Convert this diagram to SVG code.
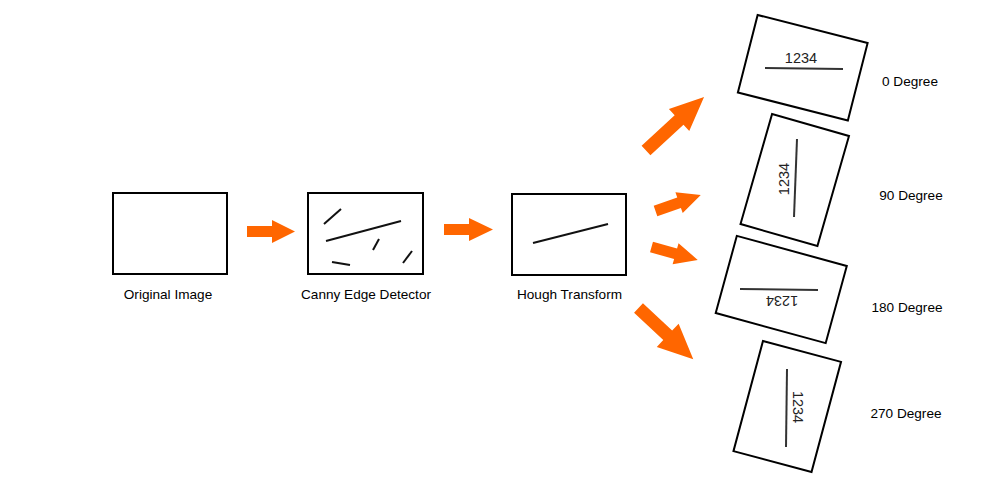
<svg xmlns="http://www.w3.org/2000/svg" width="995" height="498" viewBox="0 0 995 498">
<style>
.box{fill:#fff;stroke:#000;stroke-width:2}
.ln{stroke:#111;stroke-width:2;stroke-linecap:butt;fill:none}
.ln2{stroke:#333;stroke-width:2;fill:none}
.lbl{font-family:"Liberation Sans",Arial,sans-serif;font-size:13.6px;fill:#000;text-anchor:middle}
.num{font-family:"Liberation Sans",Arial,sans-serif;font-size:14.5px;fill:#222;text-anchor:middle}
.arr{fill:#FF6600}
</style>
<defs>
<filter id="soft" x="-10%" y="-10%" width="120%" height="120%"><feGaussianBlur stdDeviation="0.5"/></filter>
</defs>
<rect width="995" height="498" fill="#fff"/>
<g id="original">
<rect class="box" x="113" y="193" width="114" height="81"/>
<text class="lbl" x="168" y="299">Original Image</text>
</g>
<g id="canny">
<rect class="box" x="308" y="193" width="115" height="81"/>
<line class="ln" x1="324" y1="224" x2="341" y2="209"/>
<line class="ln" x1="326" y1="241" x2="401" y2="221"/>
<line class="ln" x1="373" y1="250" x2="379" y2="239"/>
<line class="ln" x1="332" y1="262" x2="350" y2="265"/>
<line class="ln" x1="403" y1="263" x2="412" y2="251"/>
<text class="lbl" x="366" y="299">Canny Edge Detector</text>
</g>
<g id="hough">
<rect class="box" x="512" y="194" width="114" height="81"/>
<line class="ln" x1="533" y1="243" x2="608" y2="224"/>
<text class="lbl" x="569.5" y="299">Hough Transform</text>
</g>
<g id="deg0">
<rect class="box" x="-56.75" y="-40" width="113.5" height="80" transform="translate(802.75,67.75) rotate(14.3)"/>
<line class="ln2" x1="765" y1="68" x2="843" y2="69"/>
<text class="num" x="801" y="63">1234</text>
<text class="lbl" x="910" y="86">0 Degree</text>
</g>
<g id="deg90">
<rect class="box" x="-40" y="-57.25" width="80" height="114.5" transform="translate(794.75,180) rotate(16)"/>
<line class="ln2" x1="797" y1="139" x2="794" y2="217"/>
<text class="num" transform="translate(789,179) rotate(-90)" x="0" y="0">1234</text>
<text class="lbl" x="911" y="200">90 Degree</text>
</g>
<g id="deg180">
<rect class="box" x="-57" y="-40" width="114" height="80" transform="translate(781.25,289.5) rotate(15.3)"/>
<line class="ln2" x1="740" y1="289" x2="818" y2="290"/>
<text class="num" transform="translate(782,296) rotate(180)" x="0" y="0">1234</text>
<text class="lbl" x="907" y="312">180 Degree</text>
</g>
<g id="deg270">
<rect class="box" x="-40.4" y="-57" width="80.8" height="114" transform="translate(787.25,406.5) rotate(15)"/>
<line class="ln2" x1="787" y1="369" x2="786" y2="447"/>
<text class="num" transform="translate(792.5,407) rotate(90)" x="0" y="0">1234</text>
<text class="lbl" x="906" y="418">270 Degree</text>
</g>
<g id="connectors">
<path class="arr" transform="translate(247,231.5)" d="M0,-5.5 H25 V-11.5 L48,0 L25,11.5 V5.5 H0 Z"/>
<path class="arr" transform="translate(444,229.5)" d="M0,-5.5 H25 V-11.5 L49,0 L25,11.5 V5.5 H0 Z"/>
<g filter="url(#soft)">
<path class="arr" transform="translate(646,150.5) rotate(-42.7)" d="M0,-6.5 H45 V-15 L79,0 L45,15 V6.5 H0 Z"/>
<path class="arr" transform="translate(655.5,211) rotate(-19.4)" d="M0,-5.5 H25 V-11 L48,0 L25,11 V5.5 H0 Z"/>
<path class="arr" transform="translate(651.5,247) rotate(15.6)" d="M0,-5.5 H25 V-11 L48,0 L25,11 V5.5 H0 Z"/>
<path class="arr" transform="translate(638.5,308) rotate(43.1)" d="M0,-6.5 H40 V-16 L75,0 L40,16 V6.5 H0 Z"/>
</g>
</g>
</svg>
